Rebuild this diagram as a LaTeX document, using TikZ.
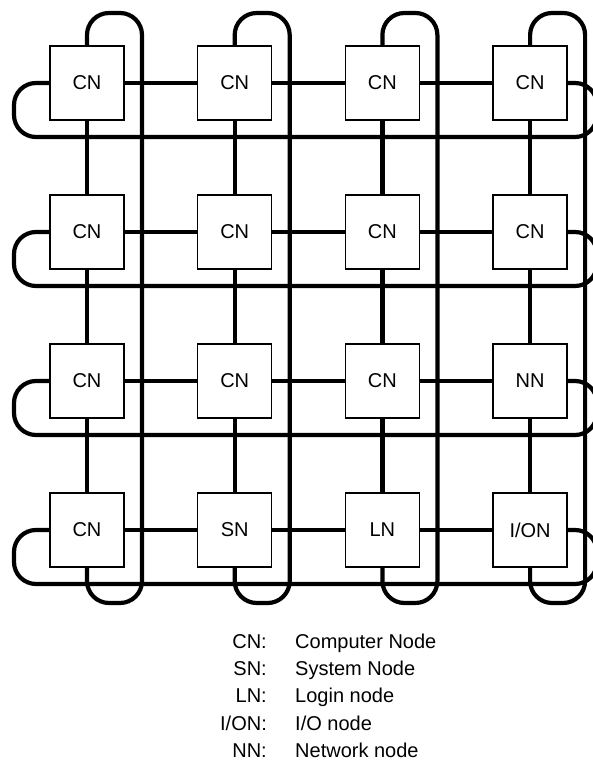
\documentclass[tikz,border=0pt]{standalone}
\usepackage{fontspec}
\setmainfont{Liberation Sans}
\tikzset{
  wire/.style={line width=4.2pt, rounded corners=22pt},
  pe/.style={draw, line width=1.3pt, fill=white, minimum size=74pt,
    inner sep=0pt, font=\fontsize{20}{24}\selectfont},
  key/.style={inner sep=0pt, font=\fontsize{20}{24}\selectfont}
}

\begin{document}
\begin{tikzpicture}[x=1pt, y=1pt]
  \useasboundingbox (0,0) rectangle (593,764);
  \clip (0,0) rectangle (593,764);
  \coordinate (L) at (14,0);
  \coordinate (R) at (597,0);
  \coordinate (T) at (0,751);
  \coordinate (B) at (0,161);
  % the 4x4 processing elements
  \foreach \r/\row in {1/{CN,CN,CN,CN}, 2/{CN,CN,CN,CN},
      3/{CN,CN,CN,NN}, 4/{CN,SN,LN,I/ON}}
    \foreach \lbl [count=\c] in \row
      \node[pe] (n-\r-\c) at ({87+147.7*(\c-1)}, {681-149*(\r-1)}) {\lbl};
  % mesh links
  \foreach \i [evaluate=\i as \j using int(\i+1)] in {1,2,3}
    \foreach \k in {1,...,4} {
      \draw[wire] (n-\k-\i) -- (n-\k-\j);
      \draw[wire] (n-\i-\k) -- (n-\j-\k);
    }
  % torus wrap-arounds
  \foreach \r in {1,...,4}
    \draw[wire] (n-\r-1.west) -- (L |- n-\r-1.west)
      -- ([yshift=-54pt]L |- n-\r-1.west) -- ([yshift=-54pt]R |- n-\r-4.east)
      -- (R |- n-\r-4.east) -- (n-\r-4.east);
  \foreach \c in {1,...,4}
    \draw[wire] (n-1-\c.north) -- (n-1-\c.north |- T)
      -- ([xshift=55pt]n-1-\c.north |- T) -- ([xshift=55pt]n-4-\c.south |- B)
      -- (n-4-\c.south |- B) -- (n-4-\c.south);
  % legend
  \foreach \abbr/\txt [count=\i] in {CN/Computer Node, SN/System Node,
      LN/Login node, {I/ON}/{I/O node}, NN/Network node} {
    \node[key, anchor=base east] (abbr-\i) at (267, {115.5-27.2*(\i-1)}) {\abbr:};
    \node[key, anchor=base west] (txt-\i) at (295, {115.5-27.2*(\i-1)}) {\txt};
  }
\end{tikzpicture}
\end{document}
